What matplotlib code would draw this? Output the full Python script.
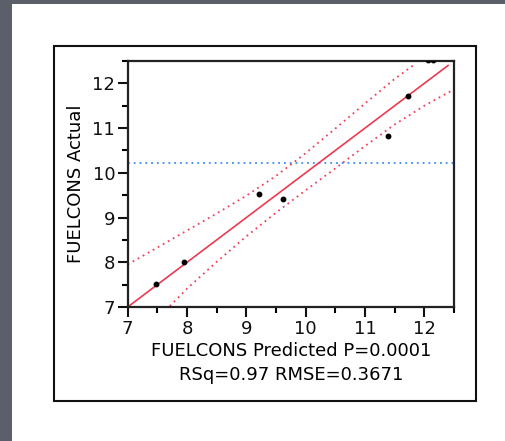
import numpy as np
import matplotlib.pyplot as plt
from matplotlib.patches import Rectangle

# observed vs predicted fuel consumption
predicted = [7.47, 7.95, 9.21, 9.62, 11.39, 11.72, 12.06, 12.15]
actual    = [7.51, 8.01, 9.52, 9.42, 10.83, 11.72, 12.53, 12.53]

fit_x = [7.0, 12.4]
fit_y = [7.0, 12.4]
mean_actual = 10.23

# confidence curves read along the fit
upper_x = [7.0, 7.5, 8.0, 8.5, 9.0, 9.5, 10.0, 10.5, 11.0, 11.5, 11.83]
upper_y = [7.95, 8.33, 8.71, 9.09, 9.49, 9.93, 10.44, 10.99, 11.55, 12.10, 12.42]
lower_x = [7.71, 8.0, 8.5, 9.0, 9.5, 10.0, 10.5, 11.0, 11.5, 12.0, 12.45]
lower_y = [7.02, 7.41, 8.01, 8.58, 9.11, 9.61, 10.10, 10.60, 11.08, 11.50, 11.83]

fig = plt.figure(figsize=(5.06, 4.41), dpi=100)
fig.patch.set_facecolor('#5b5f69')
fig.add_artist(Rectangle((12/506, 0), 1 - 12/506, 1 - 4/441,
                         transform=fig.transFigure, facecolor='white',
                         edgecolor='none', zorder=0))
fig.add_artist(Rectangle((54/506, 1 - 401/441), 422/506, 355/441,
                         transform=fig.transFigure, facecolor='none',
                         edgecolor='#111111', linewidth=1.5, zorder=1))

ax = fig.add_axes([127.7/506, 1 - 307/441, 326.3/506, 246/441])
ax.set_facecolor('white')

ax.axhline(mean_actual, color='#3d8df5', linestyle=(0, (1, 2.2)), linewidth=1.3)
ax.plot(upper_x, upper_y, color='#f2405a', linestyle=(0, (1, 2.2)), linewidth=1.3)
ax.plot(lower_x, lower_y, color='#f2405a', linestyle=(0, (1, 2.2)), linewidth=1.3)
ax.plot(fit_x, fit_y, color='#ec3a52', linewidth=1.2)
ax.plot(predicted, actual, 'o', color='black', markersize=3.2, zorder=5)

ax.set_xlim(7, 12.5)
ax.set_ylim(7, 12.5)
ax.set_xticks([7, 8, 9, 10, 11, 12])
ax.set_yticks([7, 8, 9, 10, 11, 12])
ax.set_xticks(np.arange(7.5, 12.6, 1), minor=True)
ax.set_yticks(np.arange(7.5, 12.6, 1), minor=True)
ax.tick_params(which='major', length=7, width=1.5, labelsize=13, pad=2, colors='#111111')
ax.tick_params(which='minor', length=4, width=1.5)
for s in ax.spines.values():
    s.set_linewidth(1.6)
    s.set_color('#222222')

ax.set_xlabel('FUELCONS Predicted P=0.0001\nRSq=0.97 RMSE=0.3671',
              fontsize=13, linespacing=1.45, labelpad=3)
ax.set_ylabel('FUELCONS Actual', fontsize=13, labelpad=5)

fig.savefig('out.png', dpi=100)
